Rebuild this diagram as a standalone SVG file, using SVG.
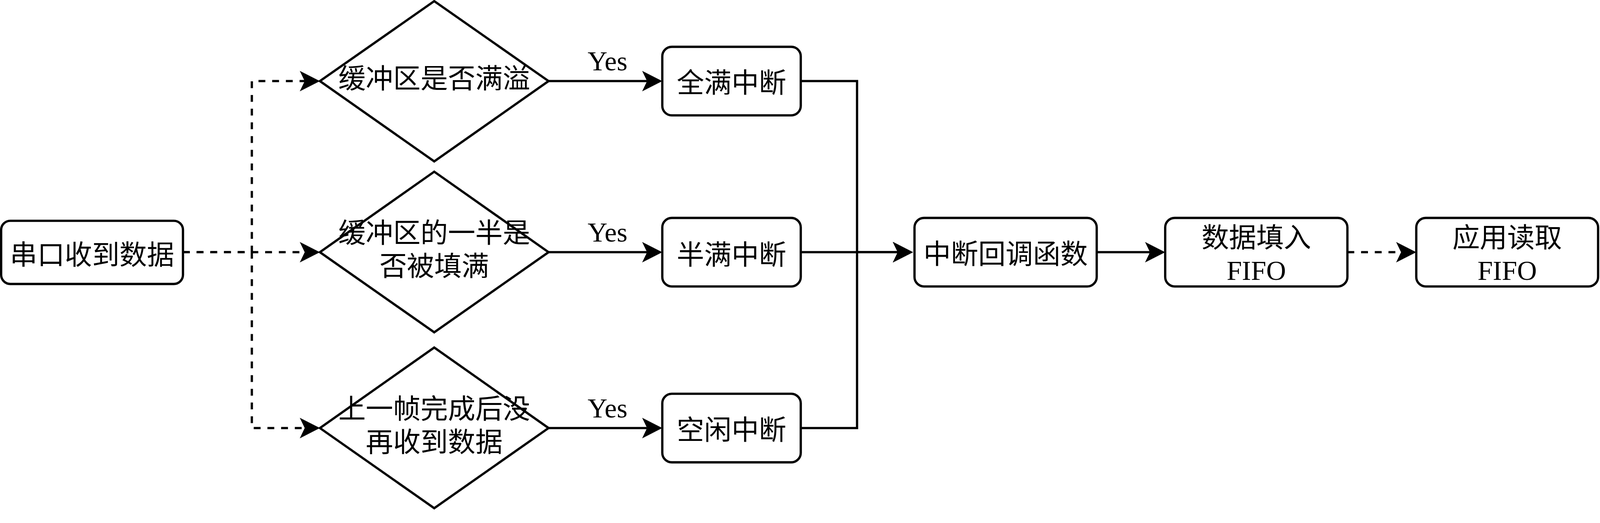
<svg xmlns="http://www.w3.org/2000/svg" width="4206" height="1338" viewBox="0 0 4206 1338" preserveAspectRatio="xMinYMin meet">
<style>
svg{max-width:100vw;max-height:100vh}
.box{fill:#ffffff;stroke:#000000;stroke-width:6}
.edge{fill:none;stroke:#000000;stroke-width:6}
.dash{stroke-dasharray:18 18}
.lbl{font-family:"Liberation Serif","Noto Sans CJK SC",serif;font-size:72px;fill:#000000;text-anchor:middle}
</style>
<defs>
<marker id="arrow" markerUnits="userSpaceOnUse" viewBox="-14 -28 56 56" refX="0" refY="0" markerWidth="56" markerHeight="56" orient="auto">
<path d="M40,0 L-13,-27 L0,0 L-13,27 Z" fill="#000000" stroke="none"/>
</marker>
</defs>
<rect width="4206" height="1338" fill="#ffffff"/>
<g id="connectors">
<path class="edge dash" d="M481,662.5 H662 V213 H801" marker-end="url(#arrow)"/>
<path class="edge dash" d="M481,662.5 H801" marker-end="url(#arrow)"/>
<path class="edge dash" d="M481,662.5 H662 V1124.5 H801" marker-end="url(#arrow)"/>
<path class="edge" d="M1442,213 H1701" marker-end="url(#arrow)"/>
<path class="edge" d="M1442,662.5 H1701" marker-end="url(#arrow)"/>
<path class="edge" d="M1442,1124.5 H1701" marker-end="url(#arrow)"/>
<path class="edge" d="M2105,213 H2253 V662.5 H2360" marker-end="url(#arrow)"/>
<path class="edge" d="M2105,662.5 H2360" marker-end="url(#arrow)"/>
<path class="edge" d="M2105,1124.5 H2253 V662.5 H2360" marker-end="url(#arrow)"/>
<path class="edge" d="M2883,662.5 H3023" marker-end="url(#arrow)"/>
<path class="edge dash" d="M3542,662.5 H3683" marker-end="url(#arrow)"/>
<text class="lbl" x="1597" y="185">Yes</text>
<text class="lbl" x="1597" y="635">Yes</text>
<text class="lbl" x="1597" y="1097">Yes</text>
</g>
<g id="node-uart">
<rect class="box" x="3" y="580" width="478" height="166" rx="24" ry="24"/>
<text class="lbl" x="242" y="695">串口收到数据</text>
</g>
<g id="node-full-check">
<polygon class="box" points="841,213 1141.5,3 1442,213 1141.5,424"/>
<text class="lbl" x="1141.5" y="232">缓冲区是否满溢</text>
</g>
<g id="node-half-check">
<polygon class="box" points="841,662.5 1141.5,451 1442,662.5 1141.5,873"/>
<text class="lbl" x="1141.5" y="638">缓冲区的一半是</text>
<text class="lbl" x="1141.5" y="725">否被填满</text>
</g>
<g id="node-idle-check">
<polygon class="box" points="841,1124.5 1141.5,913 1442,1124.5 1141.5,1335"/>
<text class="lbl" x="1141.5" y="1100">上一帧完成后没</text>
<text class="lbl" x="1141.5" y="1187">再收到数据</text>
</g>
<g id="node-full-irq">
<rect class="box" x="1741" y="123" width="364" height="180" rx="25" ry="25"/>
<text class="lbl" x="1923" y="243">全满中断</text>
</g>
<g id="node-half-irq">
<rect class="box" x="1741" y="572.5" width="364" height="180" rx="25" ry="25"/>
<text class="lbl" x="1923" y="695">半满中断</text>
</g>
<g id="node-idle-irq">
<rect class="box" x="1741" y="1034.5" width="364" height="180" rx="25" ry="25"/>
<text class="lbl" x="1923" y="1155">空闲中断</text>
</g>
<g id="node-callback">
<rect class="box" x="2404" y="572.5" width="479" height="180" rx="25" ry="25"/>
<text class="lbl" x="2643.5" y="693">中断回调函数</text>
</g>
<g id="node-fifo-write">
<rect class="box" x="3063" y="572.5" width="479" height="180" rx="25" ry="25"/>
<text class="lbl" x="3302.5" y="650">数据填入</text>
<text class="lbl" x="3302.5" y="735">FIFO</text>
</g>
<g id="node-fifo-read">
<rect class="box" x="3723" y="572.5" width="478" height="180" rx="25" ry="25"/>
<text class="lbl" x="3962" y="650">应用读取</text>
<text class="lbl" x="3962" y="735">FIFO</text>
</g>
</svg>
